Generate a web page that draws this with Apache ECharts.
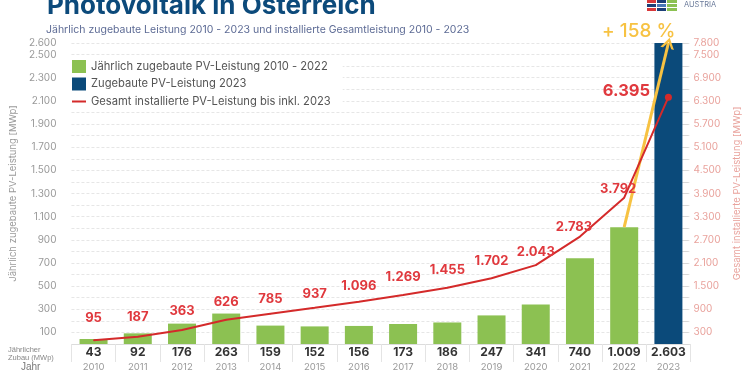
<!DOCTYPE html>
<html>
<head>
<meta charset="utf-8">
<script src="https://cdn.jsdelivr.net/npm/echarts@6/dist/echarts.min.js"></script>
<style>
  html, body { margin: 0; padding: 0; background: #fff; }
  #main { width: 750px; height: 375px; }
</style>
</head>
<body>
<div id="main"></div>
<script>
// Daten
const years = ['2010', '2011', '2012', '2013', '2014', '2015', '2016', '2017', '2018', '2019', '2020', '2021', '2022', '2023'];
const zubau = [43, 92, 176, 263, 159, 152, 156, 173, 186, 247, 341, 740, 1009, 2603];   // MWp pro Jahr
const gesamt = [95, 187, 363, 626, 785, 937, 1096, 1269, 1455, 1702, 2043, 2783, 3792, 6395]; // MWp kumuliert
const leftLabels = [100, 300, 500, 700, 900, 1100, 1300, 1500, 1700, 1900, 2100, 2300, 2500, 2600];
const rightLabels = [300, 900, 1500, 2100, 2700, 3300, 3900, 4500, 5100, 5700, 6300, 6900, 7500, 7800];

const nameGreen = 'Jährlich zugebaute PV-Leistung 2010 - 2022';
const nameBlue = 'Zugebaute PV-Leistung 2023';
const nameLine = 'Gesamt installierte PV-Leistung bis inkl. 2023';

// Zahlen mit Punkt als Tausendertrenner
function fmt(v) {
  return String(v).replace(/\B(?=(\d{3})+(?!\d))/g, '.');
}

// Verschiebung der Linienbeschriftungen [dx, dy]
const labelShift = [[0, -10], [0, -8], [0, -7], [0, -6], [0, -3], [0, -2], [0, -4],
  [0, -6], [0, -6], [0, -5], [0, -1], [-6, 2], [-6, 3], [-42, 11]];

const lineData = gesamt.map((v, i) => {
  const last = i === gesamt.length - 1;
  return {
    value: v,
    symbolSize: last ? 7 : 1,
    label: last ? { offset: labelShift[i], fontSize: 16.5 } : { offset: labelShift[i] }
  };
});

const chart = echarts.init(document.getElementById('main'));

const option = {
  animation: false,
  textStyle: { fontFamily: 'Inter, Roboto, sans-serif' },
  title: [
    {
      text: 'Photovoltaik in Österreich',
      left: 47, top: -7, padding: 0,
      textStyle: { fontSize: 26, fontWeight: 'bold', color: '#0c4a7b' }
    },
    {
      text: 'Jährlich zugebaute Leistung 2010 - 2023 und installierte Gesamtleistung 2010 - 2023',
      left: 46, top: 24, padding: 0,
      textStyle: { fontSize: 10.5, fontWeight: 'normal', color: '#5d6b95' }
    },
    {
      text: '+ 158 %',
      left: 602, top: 22, padding: 0,
      textStyle: { fontSize: 19, fontWeight: 500, color: '#f7c242' }
    },
    {
      text: 'AUSTRIA',
      left: 684, top: 1, padding: 0,
      textStyle: { fontSize: 7.5, fontWeight: 'normal', color: '#6a7a9a' }
    }
  ],
  legend: {
    orient: 'vertical',
    left: 64, top: 58,
    padding: [2, 12, 2, 8],
    backgroundColor: '#fff',
    itemWidth: 14, itemHeight: 13, itemGap: 4.5,
    textStyle: { fontSize: 11.2, color: '#555' },
    data: [
      { name: nameGreen, icon: 'rect' },
      { name: nameBlue, icon: 'rect' },
      { name: nameLine, icon: 'path://M0,0L0.01,0Z M0,5.5H14V7.5H0Z M0,13L0.01,13Z' }
    ]
  },
  grid: { left: 53, right: 53, top: 43, bottom: 31 },
  xAxis: {
    type: 'category',
    data: years,
    axisLine: { lineStyle: { color: '#dcdcdc' } },
    axisTick: { show: true, interval: 0, length: 18, lineStyle: { color: '#e4e4e4' } },
    axisLabel: {
      interval: 0,
      margin: 1,
      formatter: function (val, idx) {
        return '{v|' + fmt(zubau[idx]) + '}\n{y|' + val + '}';
      },
      rich: {
        v: { fontSize: 12, fontWeight: 'bold', color: '#333', lineHeight: 15 },
        y: { fontSize: 9.5, color: '#999', lineHeight: 15 }
      }
    }
  },
  yAxis: [
    {
      type: 'value',
      min: 0, max: 2600, interval: 100,
      name: 'Jährlich zugebaute PV-Leistung [MWp]',
      nameLocation: 'middle', nameGap: 45, nameRotate: 90,
      nameTextStyle: { fontSize: 9.5, color: '#999' },
      axisLine: { show: false },
      axisTick: { show: false },
      axisLabel: {
        margin: 15, fontSize: 10, color: '#999',
        formatter: v => leftLabels.includes(v) ? fmt(v) : ''
      },
      splitLine: { lineStyle: { color: '#e6e6e6', type: [3, 2] } }
    },
    {
      type: 'value',
      min: 0, max: 7800, interval: 300,
      offset: -8,
      name: 'Gesamt installierte PV-Leistung [MWp]',
      nameLocation: 'middle', nameGap: 48, nameRotate: 90,
      nameTextStyle: { fontSize: 9.5, color: '#e9a39d' },
      axisLine: { show: false },
      axisTick: { show: true, length: 6, lineStyle: { color: '#d8d8d8' } },
      axisLabel: {
        margin: 11, fontSize: 10, color: '#e9a39d',
        formatter: v => rightLabels.includes(v) ? fmt(v) : ''
      },
      splitLine: { show: false }
    }
  ],
  graphic: [
    // Logo
    { type: 'rect', shape: { x: 647, y: 0, width: 9, height: 3 }, style: { fill: '#d8383a' } },
    { type: 'rect', shape: { x: 647, y: 4, width: 9, height: 3 }, style: { fill: '#1d3f78' } },
    { type: 'rect', shape: { x: 647, y: 8, width: 9, height: 3 }, style: { fill: '#d8383a' } },
    { type: 'rect', shape: { x: 657, y: 0, width: 9, height: 3 }, style: { fill: '#1d3f78' } },
    { type: 'rect', shape: { x: 657, y: 4, width: 9, height: 3 }, style: { fill: '#4a78b8' } },
    { type: 'rect', shape: { x: 657, y: 8, width: 9, height: 3 }, style: { fill: '#1d3f78' } },
    { type: 'rect', shape: { x: 667, y: 0, width: 10, height: 3 }, style: { fill: '#8cc152' } },
    { type: 'rect', shape: { x: 667, y: 4, width: 10, height: 3 }, style: { fill: '#8cc152' } },
    { type: 'rect', shape: { x: 667, y: 8, width: 10, height: 3 }, style: { fill: '#8cc152' } },
    // Tabellenbeschriftung links unten
    {
      type: 'text', left: 8, top: 346,
      style: { text: 'Jährlicher\nZubau (MWp)', fontSize: 7.5, lineHeight: 8, fill: '#888', align: 'center', x: 22 }
    },
    {
      type: 'text', left: 21, top: 362,
      style: { text: 'Jahr', fontSize: 10, fill: '#777' }
    }
  ],
  series: [
    {
      name: nameGreen,
      type: 'bar',
      barWidth: 28,
      barGap: '-100%',
      itemStyle: { color: '#8cc152' },
      data: zubau.map((v, i) => i < zubau.length - 1 ? v : '-')
    },
    {
      name: nameBlue,
      type: 'bar',
      barWidth: 28,
      barGap: '-100%',
      itemStyle: { color: '#0b4a7a' },
      data: zubau.map((v, i) => i === zubau.length - 1 ? v : '-'),
      markLine: {
        silent: true,
        symbol: ['none', 'path://M0,10 L5,0 L10,10 L8,10 L5,4 L2,10 Z'],
        symbolSize: [14, 11],
        label: { show: false },
        lineStyle: { color: '#f7c242', width: 3, type: 'solid' },
        data: [[{ coord: ['2022', zubau[12]] }, { coord: ['2023', 2600] }]]
      }
    },
    {
      // nur für die Legende
      name: nameLine,
      type: 'line',
      yAxisIndex: 1,
      symbol: 'none',
      lineStyle: { color: '#d42a2a', width: 2 },
      itemStyle: { color: '#d42a2a' },
      data: []
    },
    {
      name: 'gesamt',
      type: 'line',
      yAxisIndex: 1,
      symbol: 'circle',
      showSymbol: true,
      itemStyle: { color: '#d42a2a' },
      lineStyle: { color: '#d42a2a', width: 2 },
      label: {
        show: true,
        position: 'top',
        distance: 5,
        fontSize: 13,
        fontWeight: 'bold',
        color: '#e0393e',
        formatter: p => fmt(p.value)
      },
      data: lineData,
      z: 5
    }
  ]
};

chart.setOption(option);
</script>
</body>
</html>
